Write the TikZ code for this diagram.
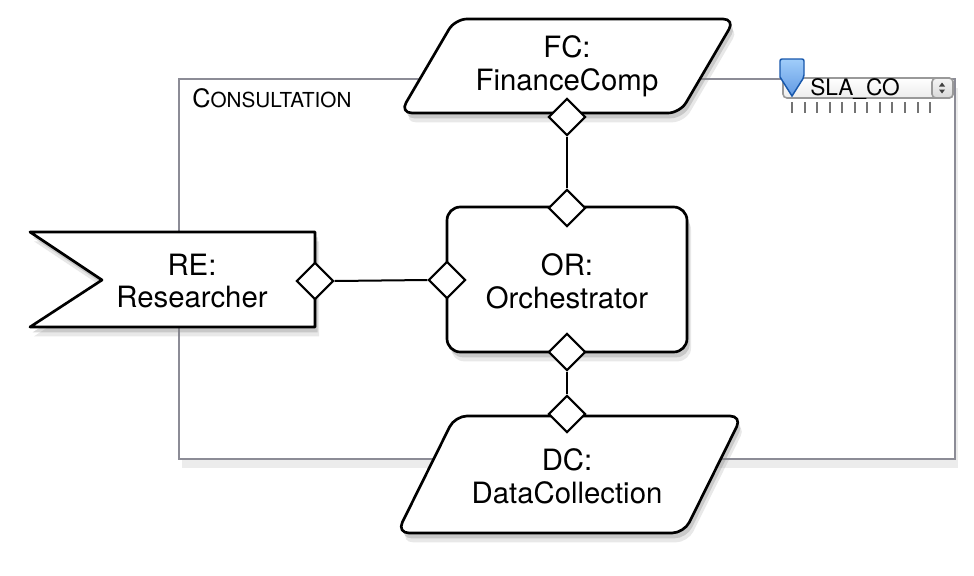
\documentclass[tikz,border=0pt]{standalone}
\usepackage{fontspec}
\setmainfont{TeX Gyre Heros}
\usetikzlibrary{shapes.geometric,shadows}
\definecolor{framegray}{RGB}{140,140,150}
\definecolor{pinblue}{RGB}{30,110,215}
\definecolor{pinlight}{RGB}{160,205,250}

\begin{document}
\begin{tikzpicture}[x=0.75pt,y=0.75pt,yscale=-1,xscale=1,
    comp/.style={draw=black,line width=2pt,fill=white,line join=round,
      drop shadow={opacity=0.18,shadow xshift=3pt,shadow yshift=-7pt},
      drop shadow={opacity=0.3,shadow xshift=2pt,shadow yshift=-4pt}},
    port/.style={diamond,draw=black,line width=1.6pt,fill=white,inner sep=0pt,
      minimum width=28pt,minimum height=28pt},
    wire/.style={line width=1.5pt},
    lbl/.style={inner sep=0.75pt,align=center,font=\fontsize{22}{24.5}\selectfont}]
    \path (0,0) rectangle (974,575);

    % composite frame
    \draw [framegray,line width=2pt,fill=white,
      drop shadow={opacity=0.15,shadow xshift=2pt,shadow yshift=-7pt}] (179,79) rectangle (955,459);
    \node (title) [anchor=base west,inner sep=0pt] at (192,107) {\fontsize{19}{19}\selectfont C\fontsize{15.5}{15.5}\selectfont ONSULTATION};

    % SLA slider
    \foreach \i in {0,...,11}
      \draw [black!55,line width=1.5pt] (792+\i*12.55,102) -- ++(0,11);
    \draw [gray!80,line width=1.2pt,top color=white,bottom color=gray!15,rounded corners=3pt] (783,78) rectangle (953,98);
    \draw [gray!80,line width=1.2pt,top color=gray!8,bottom color=gray!30,rounded corners=3pt] (932,78) rectangle (953,98);
    \fill [black!75] (939,86.5) -- (945,86.5) -- (942,82.5) -- cycle;
    \fill [black!75] (939,89.5) -- (945,89.5) -- (942,93.5) -- cycle;
    \node (sla) [anchor=west,inner sep=0pt,font=\fontsize{17}{17}\selectfont] at (810,89) {SLA\_CO};
    \draw [pinblue!80!black,line width=1.1pt,top color=pinlight,bottom color=pinblue!70,rounded corners=1.5pt] (780,59) -- (804,59) -- (804,77) [sharp corners] -- (792,96) -- (780,77) [rounded corners=1.5pt] -- cycle;

    % components
    \draw [comp,rounded corners=9pt] (455,19) -- (735,19) -- (680,113) -- (400,113) -- cycle;
    \draw [comp,rounded corners=9pt] (455,416) -- (742,416) -- (684,533) -- (397,533) -- cycle;
    \draw [comp] (30,232) -- (315,232) -- (315,327) -- (30,327) -- (102,280) -- cycle;
    \draw [comp,rounded corners=10pt] (447,207) rectangle (687,352);

    \node (fc) [lbl] at (567,66) {FC:\\FinanceComp};
    \node (re) [lbl] at (192,281) {RE:\\Researcher};
    \node (or) [lbl] at (567,281) {OR:\\Orchestrator};
    \node (dc) [lbl] at (567,476) {DC:\\DataCollection};

    % ports
    \node (fcport) [port] at (567,117) {};
    \node (report) [port] at (315,281) {};
    \node (ortop) [port] at (567,208) {};
    \node (orleft) [port] at (447,280) {};
    \node (orbot) [port] at (567,352) {};
    \node (dcport) [port] at (567,414) {};

    % bindings
    \draw [wire] (fcport.south) -- (ortop.north);
    \draw [wire] (report.east) -- (orleft.west);
    \draw [wire] (orbot.south) -- (dcport.north);
\end{tikzpicture}
\end{document}
